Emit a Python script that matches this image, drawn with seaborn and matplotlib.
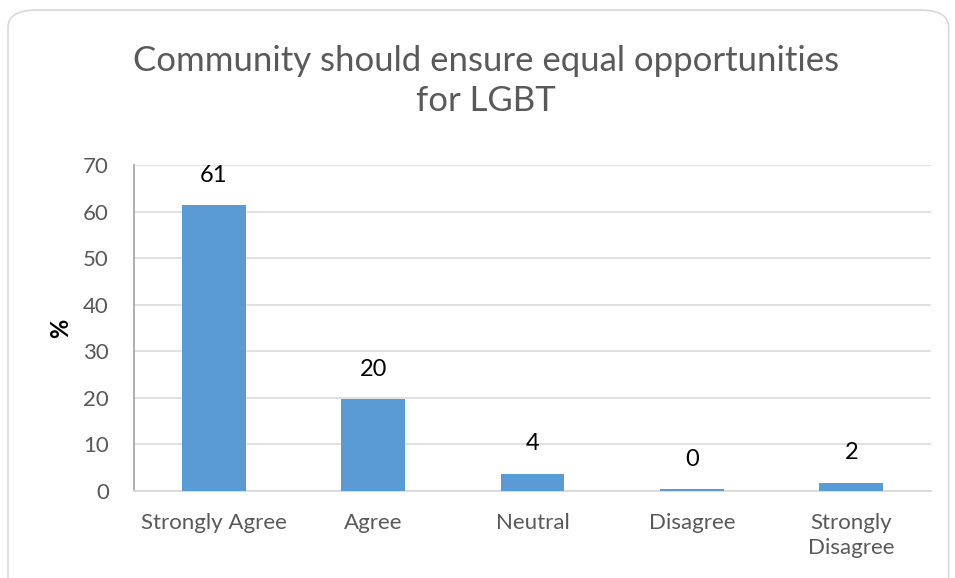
import matplotlib
matplotlib.use("Agg")
import matplotlib.pyplot as plt
from matplotlib.patches import FancyBboxPatch
import seaborn as sns
import pandas as pd

categories = ["Strongly Agree", "Agree", "Neutral", "Disagree", "Strongly\nDisagree"]
percent = [61.4, 19.7, 3.7, 0.4, 1.8]
y_ticks = [0, 10, 20, 30, 40, 50, 60, 70]
title = "Community should ensure equal opportunities\nfor LGBT"

sns.set_theme(style="white")
plt.rcParams["font.family"] = ["Lato", "DejaVu Sans"]

df = pd.DataFrame({"category": categories, "percent": percent})

fig = plt.figure(figsize=(9.55, 5.78), dpi=100)
ax = fig.add_axes([134 / 955, 1 - 491 / 578, (931 - 134) / 955, (491 - 165) / 578])

# rounded chart frame
frame = FancyBboxPatch((8 / 955, -0.05), 0.985, 0.05 + (578 - 10) / 578,
                       boxstyle="round,pad=0,rounding_size=0.03",
                       transform=fig.transFigure, facecolor="white",
                       edgecolor="#d9d9d9", linewidth=1.2, zorder=-10)
fig.patches.append(frame)

sns.barplot(data=df, x="category", y="percent", color="#5b9bd5",
            width=0.4, saturation=1, linewidth=0, ax=ax, zorder=3)

ax.set_ylim(0, 70)
ax.set_yticks(y_ticks)
ax.set_xlim(-0.5, len(categories) - 0.5)
ax.yaxis.grid(True, color="#d9d9d9", linewidth=1.1, zorder=0)
ax.set_axisbelow(True)
for side in ["top", "right"]:
    ax.spines[side].set_visible(False)
ax.spines["left"].set_color("#a6a6a6")
ax.spines["bottom"].set_color("#d9d9d9")
ax.spines["bottom"].set_linewidth(1.3)
ax.tick_params(axis="both", length=0, labelsize=16, labelcolor="#595959")
ax.tick_params(axis="x", pad=16)
ax.tick_params(axis="y", pad=18)
for lbl in ax.get_xticklabels():
    lbl.set_linespacing(1.3)
ax.set_facecolor("none")

ax.set_xlabel("")
ax.set_ylabel("%", fontsize=17, fontweight="bold", color="black", labelpad=8)

for container in ax.containers:
    ax.bar_label(container, labels=[f"{v:.0f}" for v in percent],
                 padding=14, fontsize=17, color="black")

fig.text(486 / 955, 1 - 81 / 578, title, ha="center", va="center",
         fontsize=25, color="#595959", linespacing=1.3)

fig.savefig("out.png", dpi=100)
